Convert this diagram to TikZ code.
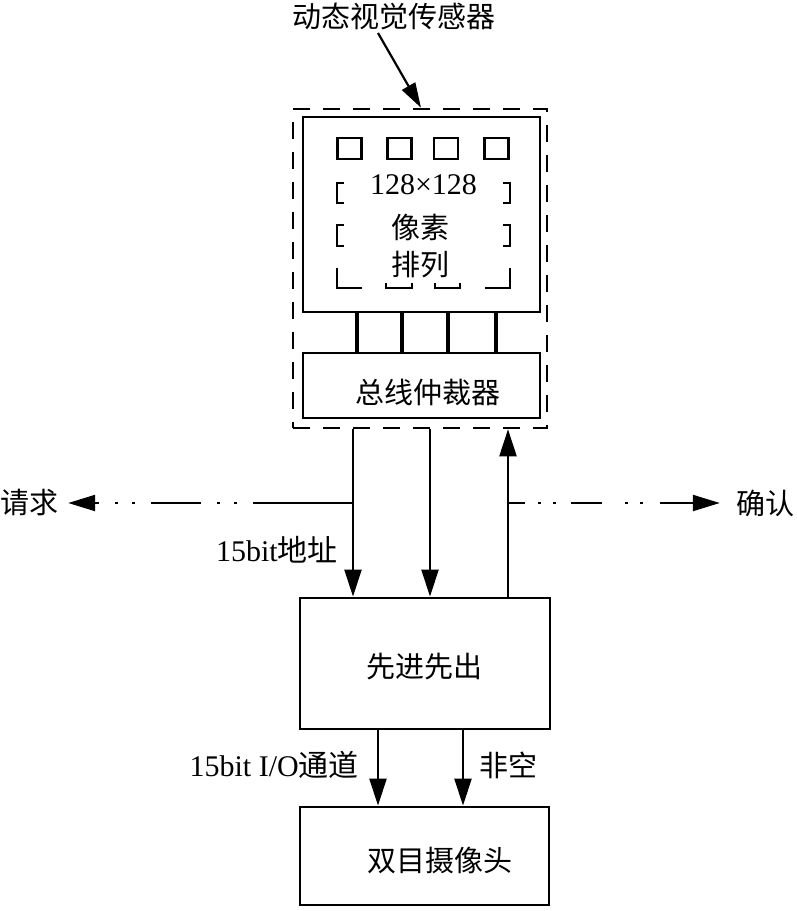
\documentclass[tikz,border=0pt]{standalone}
\usepackage{fontspec}
\setmainfont{Liberation Serif}
\newfontfamily\cjk{Noto Sans CJK SC}
\usetikzlibrary{arrows.meta}
\begin{document}
\begin{tikzpicture}[x=1pt,y=-1pt,
  box/.style={draw, line width=2.8pt, inner sep=0pt},
  txt/.style={inner sep=0pt, font=\fontsize{30}{34}\selectfont},
  ctxt/.style={inner sep=0pt, font=\fontsize{29}{34}\selectfont\cjk},
  conn/.style={line width=2.2pt},
  arr/.style={conn, -{Triangle[length=27pt,width=17pt]}},
  bus/.style={line width=3.8pt},
  brk/.style={line width=2.6pt},
  ]
\useasboundingbox (0,0) rectangle (797,911);

% title
\node[ctxt] (title) at (394,16) {动态视觉传感器};
\coordinate (ta) at (378,33);

% sensor
\node[box, line width=2.5pt, dash pattern=on 17pt off 13pt, minimum width=254pt, minimum height=319pt] (dvs) at (420,268.5) {};
\draw[conn, -{Triangle[length=25pt,width=15pt]}] (ta) -- ([xshift=1pt]dvs.north);

\node[box, minimum width=237pt, minimum height=195pt] (array) at (421.5,214.5) {};
\node[box, line width=2.5pt, minimum width=24pt, minimum height=21pt] (p1) at (349.5,148.5) {};
\node[box, line width=2.5pt, minimum width=24pt, minimum height=21pt] (p2) at (399.5,148.5) {};
\node[box, line width=2.5pt, minimum width=24pt, minimum height=21pt] (p3) at (446,148.5) {};
\node[box, line width=2.5pt, minimum width=24pt, minimum height=21pt] (p4) at (496.5,148.5) {};

\node[txt] (num) at (423.5,185) {128×128};
\node[ctxt] (px1) at (420,227) {像素};
\node[ctxt] (px2) at (420,265) {排列};

% corner brackets
\draw[brk] (344,183) -- (337,183) -- (337,203) -- (344,203);
\draw[brk] (344,225) -- (337,225) -- (337,246) -- (344,246);
\draw[brk] (503,183) -- (510,183) -- (510,203) -- (503,203);
\draw[brk] (503,225) -- (510,225) -- (510,246) -- (503,246);
\draw[brk] (337,268) -- (337,288) -- (362,288);
\draw[brk] (386,283) -- (386,288) -- (412,288) -- (412,283);
\draw[brk] (435,283) -- (435,288) -- (460,288) -- (460,283);
\draw[brk] (485,288) -- (510,288) -- (510,268);

% arbiter
\node[box, minimum width=237pt, minimum height=65pt] (arb) at (421.5,385.5) {};
\node[ctxt] (arbt) at (428,392) {总线仲裁器};
\foreach \dx in {-64.5,-19.5,26.5,74.5}
  \draw[bus] ([xshift=\dx pt]array.south) -- ([xshift=\dx pt]arb.north);

% FIFO
\node[box, minimum width=250pt, minimum height=131pt] (fifo) at (425,663.5) {};
\node[ctxt] (fifot) at (424,667) {先进先出};

% camera
\node[box, minimum width=249pt, minimum height=98pt] (cam) at (424.5,856) {};
\node[ctxt] (camt) at (440,860) {双目摄像头};

% vertical connectors
\draw[arr] ([xshift=-67pt]dvs.south) -- ([xshift=-67pt]dvs.south |- fifo.north);
\draw[arr] ([xshift=10pt]dvs.south) -- ([xshift=10pt]dvs.south |- fifo.north);
\draw[arr] ([xshift=83pt]fifo.north) -- ([xshift=83pt]fifo.north |- dvs.south);
\draw[arr] ([xshift=-47pt]fifo.south) -- ([xshift=-47pt]fifo.south |- cam.north);
\draw[arr] ([xshift=38pt]fifo.south) -- ([xshift=38pt]fifo.south |- cam.north);

% request / acknowledge
\coordinate (rq) at (353,503);
\coordinate (ak) at (508,503);
\node[ctxt] (req) at (30,503) {请求};
\node[ctxt] (ack) at (765,503) {确认};
\draw[conn, -{Triangle[length=27pt,width=16pt]},
  dash pattern=on 100pt off 16pt on 3pt off 14pt on 3pt off 16pt on 50pt off 16pt on 3pt off 14pt on 3pt off 16pt on 40pt]
  (rq) -- ([xshift=9pt]req.east);
\draw[conn, -{Triangle[length=27pt,width=16pt]},
  dash pattern=on 17pt off 13pt on 3pt off 12pt on 3pt off 15pt on 31pt off 23pt on 3pt off 12pt on 3pt off 17pt on 40pt]
  (ak) -- ([xshift=-16pt]ack.west);

% labels
\node[txt, anchor=east] (lab1) at (338,550) {15bit{\cjk 地址}};
\node[txt, anchor=east] (lab2) at (359,765) {15bit I/O{\cjk 通道}};
\node[ctxt, anchor=west] (lab3) at (479,765) {非空};
\end{tikzpicture}
\end{document}
